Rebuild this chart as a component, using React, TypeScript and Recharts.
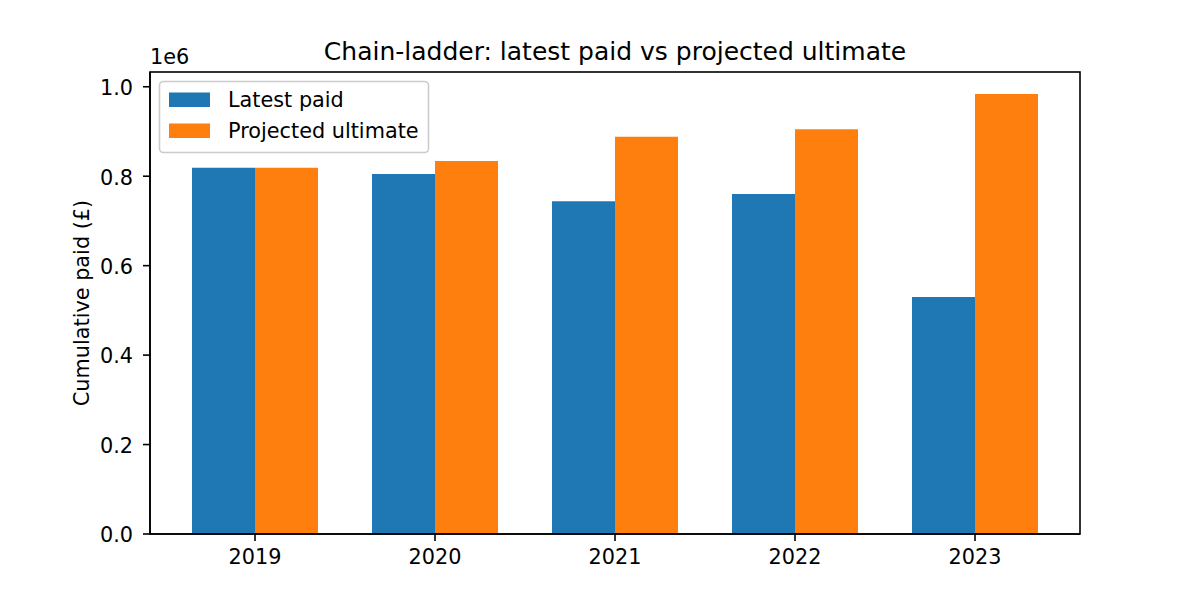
import { BarChart, Bar, XAxis, YAxis } from "recharts";

const years = ["2019", "2020", "2021", "2022", "2023"];
const latestPaid = [819000, 805000, 744000, 760000, 530000];
const projectedUltimate = [819000, 834000, 888000, 905000, 984000];
const yTicks = [0, 200000, 400000, 600000, 800000, 1000000];

const BLUE = "#1f77b4";
const ORANGE = "#ff7f0e";
const FONT = "'DejaVu Sans', sans-serif";
const FS = 20.8;

const data = years.map((year, i) => ({
  year,
  latest: latestPaid[i],
  ultimate: projectedUltimate[i],
}));

const legendItems = [
  { name: "Latest paid", color: BLUE },
  { name: "Projected ultimate", color: ORANGE },
];

export default function App() {
  return (
    <div
      style={{
        position: "absolute",
        left: 0,
        top: 0,
        width: 1200,
        height: 600,
        background: "#fff",
        fontFamily: FONT,
      }}
    >
      <BarChart
        width={1200}
        height={600}
        data={data}
        margin={{ top: 72, right: 120, bottom: 21, left: 80 }}
        barCategoryGap={27}
        barGap={0}
      >
        <XAxis
          dataKey="year"
          height={45}
          padding={{ left: 15, right: 15 }}
          tickSize={7}
          tickMargin={8.5}
          tick={{ fill: "#000", fontSize: FS, fontFamily: FONT }}
          tickLine={{ stroke: "#000", strokeWidth: 1.6 }}
          axisLine={{ stroke: "#000", strokeWidth: 1.6 }}
        />
        <YAxis
          width={70}
          domain={[0, 1033000]}
          ticks={yTicks}
          tickSize={7}
          tickMargin={10}
          tickFormatter={(v: number) => (v / 1e6).toFixed(1)}
          tick={{ fill: "#000", fontSize: FS, fontFamily: FONT, dy: 1 }}
          tickLine={{ stroke: "#000", strokeWidth: 1.6 }}
          axisLine={{ stroke: "#000", strokeWidth: 1.6 }}
          label={{
            value: "Cumulative paid (£)",
            angle: -90,
            position: "insideLeft",
            offset: 2,
            style: { fill: "#000", fontSize: FS, fontFamily: FONT, textAnchor: "middle" },
          }}
        />
        <Bar dataKey="latest" fill={BLUE} isAnimationActive={false} />
        <Bar dataKey="ultimate" fill={ORANGE} isAnimationActive={false} />
      </BarChart>

      {/* frame, title, offset text and legend */}
      <svg
        width={1200}
        height={600}
        style={{ position: "absolute", left: 0, top: 0, pointerEvents: "none" }}
        fontFamily={FONT}
      >
        <rect x={150} y={72} width={930} height={462} fill="none" stroke="#000" strokeWidth={1.6} />
        <text x={615} y={59.5} textAnchor="middle" fontSize={25} fill="#000">
          Chain-ladder: latest paid vs projected ultimate
        </text>
        <text x={150} y={64} fontSize={FS} fill="#000">
          1e6
        </text>
        <rect
          x={159.5}
          y={81.5}
          width={269}
          height={71}
          rx={4}
          fill="rgba(255,255,255,0.8)"
          stroke="#cccccc"
          strokeWidth={1.6}
        />
        {legendItems.map((item, i) => (
          <g key={item.name}>
            <rect x={169} y={92.5 + i * 31} width={41} height={14.5} fill={item.color} />
            <text x={228} y={107 + i * 31} fontSize={FS} fill="#000">
              {item.name}
            </text>
          </g>
        ))}
      </svg>
    </div>
  );
}
